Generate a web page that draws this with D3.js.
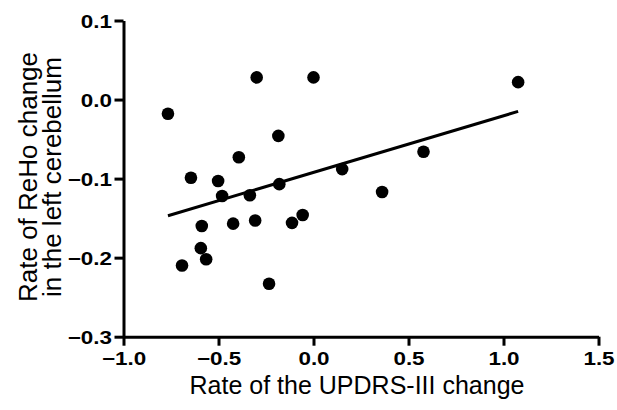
<!DOCTYPE html>
<html>
<head>
<meta charset="utf-8">
<script src="https://cdn.jsdelivr.net/npm/d3@7"></script>
<style>
  html, body { margin: 0; padding: 0; background: #fff; }
  svg { display: block; }
  text { font-family: "Liberation Sans", Arial, sans-serif; fill: #000; }
</style>
</head>
<body>
<svg id="chart" width="617" height="410"></svg>
<script>
// Data
const updrsChange = [-0.766, -0.299, 0.000, -0.185, -0.393, -0.645, -0.502, -0.481, -0.335, -0.180, 0.151, -0.588, -0.423, -0.307, -0.113, -0.057, -0.593, -0.565, -0.692, -0.234, 0.579, 0.361, 1.077];
const rehoChange  = [-0.018, 0.028, 0.028, -0.046, -0.073, -0.099, -0.103, -0.122, -0.121, -0.107, -0.088, -0.160, -0.157, -0.153, -0.156, -0.146, -0.188, -0.202, -0.210, -0.233, -0.066, -0.117, 0.022];
const fitX = [-0.766, 1.077];
const fitY = [-0.147, -0.015];
const xTicks = [-1.0, -0.5, 0.0, 0.5, 1.0, 1.5];
const yTicks = [0.1, 0.0, -0.1, -0.2, -0.3];
const xTitle = "Rate of the UPDRS-III change";
const yTitleLines = ["Rate of ReHo change", "in the left cerebellum"];

const svg = d3.select("#chart");
const x = d3.scaleLinear().domain([-1.0, 1.5]).range([123.5, 598.5]);
const y = d3.scaleLinear().domain([-0.3, 0.1]).range([336.7, 20.5]);

const stretch = 1.18;

const xAxis = svg.append("g")
  .attr("transform", `translate(0,${y(-0.3)})`)
  .call(d3.axisBottom(x).tickValues(xTicks).tickFormat(d3.format(".1f")).tickSize(9).tickSizeOuter(0));
const yAxis = svg.append("g")
  .attr("transform", `translate(${x(-1.0)},0)`)
  .call(d3.axisLeft(y).tickValues(yTicks).tickFormat(d3.format(".1f")).tickSize(9).tickSizeOuter(0));

[xAxis, yAxis].forEach(g => {
  g.select(".domain").attr("stroke", "#000").attr("stroke-width", 3);
  g.selectAll(".tick line").attr("stroke", "#000").attr("stroke-width", 3);
  g.selectAll(".tick text")
    .style("font-family", '"Liberation Sans", Arial, sans-serif')
    .style("font-weight", "bold")
    .style("font-size", "19px")
    .attr("fill", "#000");
});
xAxis.selectAll(".tick text")
  .attr("y", 28.5).attr("dy", null)
  .attr("transform", `scale(${stretch},1)`);
yAxis.selectAll(".tick text")
  .attr("x", -11.5 / stretch).attr("dy", "0.36em")
  .attr("transform", `scale(${stretch},1)`);

// Fit line
const fitData = fitX.map((v, i) => [v, fitY[i]]);
svg.append("path")
  .datum(fitData)
  .attr("fill", "none")
  .attr("stroke", "#000")
  .attr("stroke-width", 3)
  .attr("d", d3.line().x(d => x(d[0])).y(d => y(d[1])));

// Points
svg.append("g").selectAll("circle")
  .data(updrsChange.map((v, i) => [v, rehoChange[i]]))
  .join("circle")
  .attr("cx", d => x(d[0]))
  .attr("cy", d => y(d[1]))
  .attr("r", 6.3)
  .attr("fill", "#000");

// Titles
svg.append("text")
  .attr("x", 357)
  .attr("y", 394)
  .attr("text-anchor", "middle")
  .style("font-size", "25px")
  .text(xTitle);

const yt = svg.append("g").attr("transform", "translate(0,177) rotate(-90)");
yTitleLines.forEach((t, i) => {
  yt.append("text")
    .attr("x", 0)
    .attr("y", 37 + i * 24)
    .attr("text-anchor", "middle")
    .style("font-size", "26px")
    .text(t);
});
</script>
</body>
</html>
